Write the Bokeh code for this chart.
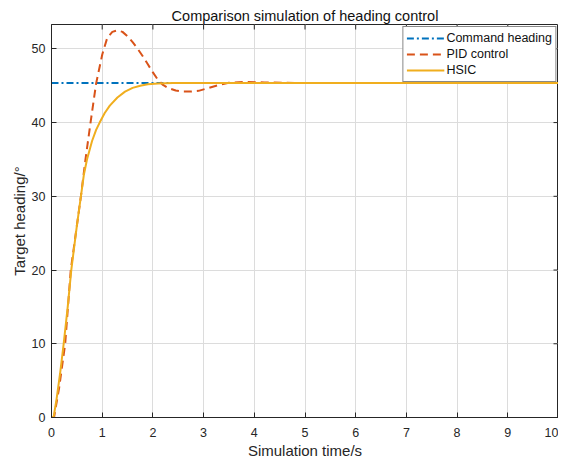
import math
from bokeh.plotting import figure
from bokeh.models import Range1d, Legend, LegendItem, FixedTicker
from bokeh.embed import file_html
from bokeh.resources import INLINE

# time (s) and heading (deg) values
cmd_t = [0, 10]
cmd_y = [45.35, 45.35]

pid_t = [0, 0.05, 0.15, 0.27, 0.38, 0.48, 0.58, 0.67, 0.77, 0.88, 1.0, 1.1, 1.2, 1.3,
         1.4, 1.5, 1.6, 1.7, 1.8, 1.9, 2.0, 2.1, 2.2, 2.3, 2.45, 2.6, 2.75, 2.9, 3.1,
         3.3, 3.5, 3.8, 4.2, 5.0, 10.0]
pid_y = [0, 0, 4, 10, 20, 25, 30, 35, 40, 45.3, 49.2, 51.5, 52.3, 52.5,
         52.3, 51.7, 50.9, 50.0, 49.0, 47.9, 46.8, 45.8, 45.1, 44.7, 44.35, 44.2, 44.2, 44.3, 44.7,
         45.1, 45.4, 45.5, 45.45, 45.35, 45.35]

hsic_t = [0, 0.04, 0.1, 0.17, 0.24, 0.32, 0.39, 0.5, 0.58, 0.64, 0.7, 0.8, 0.88, 0.95,
          1.05, 1.15, 1.3, 1.45, 1.6, 1.75, 1.9, 2.1, 2.4, 3.0, 10.0]
hsic_y = [0, 0, 2.5, 6, 10, 15, 20, 26, 30, 33, 35, 37.5, 39, 40,
          41.3, 42.3, 43.4, 44.2, 44.7, 45.0, 45.2, 45.3, 45.35, 45.35, 45.35]

x_ticks = [0, 1, 2, 3, 4, 5, 6, 7, 8, 9, 10]
y_ticks = [0, 10, 20, 30, 40, 50]
x_lim = (0, 10)
y_lim = (0, 53.3)

FONT = "Liberation Sans"
TXT = "#262626"

p = figure(width=558, height=461, output_backend="svg", toolbar_location=None,
           x_range=Range1d(*x_lim), y_range=Range1d(*y_lim),
           min_border_left=51, min_border_right=0, min_border_top=24, min_border_bottom=44)

p.title.text = "Comparison simulation of heading control"
p.title.align = "center"
p.title.text_font = FONT
p.title.text_font_size = "14.5px"
p.title.text_font_style = "normal"
p.title.text_color = "#111111"
p.title.standoff = 2

p.outline_line_color = TXT
p.outline_line_width = 1
p.outline_line_alpha = 1

for ax in (p.xaxis[0], p.yaxis[0]):
    ax.major_tick_in = 5
    ax.major_tick_out = 0
    ax.minor_tick_in = 0
    ax.minor_tick_out = 0
    ax.axis_line_color = TXT
    ax.major_tick_line_color = TXT
    ax.major_label_text_font = FONT
    ax.major_label_text_font_size = "12.5px"
    ax.major_label_text_color = TXT
    ax.axis_label_text_font = FONT
    ax.axis_label_text_font_size = "15px"
    ax.axis_label_text_font_style = "normal"
    ax.axis_label_text_color = TXT

p.xaxis[0].ticker = FixedTicker(ticks=x_ticks)
p.yaxis[0].ticker = FixedTicker(ticks=y_ticks)
p.xaxis[0].axis_label = "Simulation time/s"
p.yaxis[0].axis_label = "Target heading/°"
p.xaxis[0].major_label_standoff = 10
p.xaxis[0].axis_label_standoff = 2
p.yaxis[0].major_label_standoff = 6
p.yaxis[0].axis_label_standoff = 1

# mirrored inward ticks on the top and right edges (box on); clipped to the frame
p.scatter(x=x_ticks, y=[y_lim[1]] * len(x_ticks), marker="dash", angle=math.pi / 2,
          size=10, line_color=TXT, line_width=1)
p.scatter(x=[x_lim[1]] * len(y_ticks), y=y_ticks, marker="dash",
          size=10, line_color=TXT, line_width=1)

p.xgrid.ticker = FixedTicker(ticks=x_ticks)
p.ygrid.ticker = FixedTicker(ticks=y_ticks)
p.xgrid.grid_line_color = "#dcdcdc"
p.ygrid.grid_line_color = "#dcdcdc"

r_cmd = p.line(cmd_t, cmd_y, line_color="#0072BD", line_width=2, line_dash="7 3 2 3")
r_pid = p.line(pid_t, pid_y, line_color="#D95319", line_width=2, line_dash="8 5")
r_hsic = p.line(hsic_t, hsic_y, line_color="#F0AE1E", line_width=2)

legend = Legend(items=[LegendItem(label="Command heading", renderers=[r_cmd]),
                       LegendItem(label="PID control", renderers=[r_pid]),
                       LegendItem(label="HSIC", renderers=[r_hsic])],
                location="top_right")
legend.label_text_font = FONT
legend.label_text_font_size = "12.5px"
legend.label_text_color = "#111111"
legend.border_line_color = "#111111"
legend.border_line_width = 1
legend.background_fill_alpha = 1
legend.glyph_width = 38
legend.glyph_height = 16
legend.label_height = 16
legend.spacing = 0
legend.padding = 3
legend.margin = 2
legend.label_standoff = 2
p.add_layout(legend)

open("out.html", "w").write(file_html(p, INLINE))
